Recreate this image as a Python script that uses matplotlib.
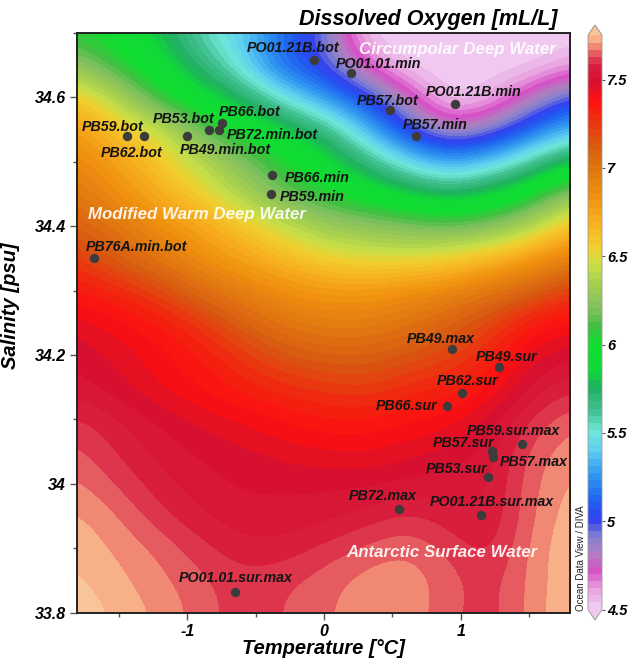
import numpy as np
import matplotlib
matplotlib.use("Agg")
import matplotlib.pyplot as plt
from matplotlib.colors import LinearSegmentedColormap, Normalize
from matplotlib.ticker import MultipleLocator

plt.rcParams['font.family'] = ['Liberation Sans', 'DejaVu Sans']

# gridded oxygen field (ODV / DIVA)
temp_grid = [-1.8, -1.5, -1.2, -0.9, -0.6, -0.3, 0.0, 0.3, 0.6, 0.9, 1.2, 1.5, 1.8]
sal_grid = [34.70, 34.65, 34.60, 34.55, 34.50, 34.45, 34.40, 34.35, 34.30, 34.25,
            34.20, 34.15, 34.10, 34.05, 34.00, 33.95, 33.90, 33.85, 33.80]
oxy_grid = [
    [6.05, 5.95, 5.8, 5.55, 5.4, 5.15, 4.95, 4.5, 4.5, 4.5, 4.5, 4.5, 4.5],
    [6.25, 6.05, 5.9, 5.7, 5.45, 5.1, 5.0, 4.7, 4.5, 4.5, 4.5, 4.5, 4.6],
    [6.6, 6.35, 6.05, 5.9, 5.75, 5.5, 5.25, 5.05, 4.78, 4.5, 4.55, 4.78, 5.0],
    [6.8, 6.6, 6.45, 6.15, 6.0, 5.85, 5.7, 5.35, 5.02, 4.78, 4.88, 5.12, 5.35],
    [6.9, 6.75, 6.6, 6.4, 6.2, 6.05, 5.9, 5.7, 5.45, 5.28, 5.38, 5.6, 5.85],
    [7.0, 6.85, 6.7, 6.55, 6.35, 6.15, 6.05, 5.95, 5.85, 5.75, 5.85, 6.0, 6.25],
    [7.1, 7.0, 6.85, 6.75, 6.6, 6.45, 6.3, 6.25, 6.2, 6.15, 6.2, 6.35, 6.65],
    [7.25, 7.1, 7.0, 6.85, 6.75, 6.65, 6.55, 6.5, 6.5, 6.55, 6.65, 6.8, 6.95],
    [7.35, 7.3, 7.2, 7.05, 6.95, 6.85, 6.8, 6.8, 6.85, 6.9, 7.0, 7.1, 7.25],
    [7.45, 7.4, 7.35, 7.25, 7.1, 7.0, 6.95, 6.95, 7.0, 7.1, 7.2, 7.35, 7.4],
    [7.5, 7.45, 7.4, 7.35, 7.25, 7.15, 7.1, 7.1, 7.15, 7.2, 7.3, 7.45, 7.5],
    [7.52, 7.48, 7.42, 7.38, 7.33, 7.28, 7.25, 7.22, 7.28, 7.32, 7.38, 7.52, 7.58],
    [7.6, 7.55, 7.5, 7.45, 7.42, 7.38, 7.35, 7.35, 7.38, 7.4, 7.48, 7.6, 7.66],
    [7.64, 7.58, 7.53, 7.5, 7.48, 7.45, 7.43, 7.42, 7.45, 7.48, 7.52, 7.64, 7.7],
    [7.68, 7.62, 7.56, 7.52, 7.5, 7.5, 7.5, 7.5, 7.52, 7.53, 7.53, 7.66, 7.72],
    [7.72, 7.67, 7.6, 7.55, 7.52, 7.52, 7.53, 7.56, 7.6, 7.56, 7.54, 7.66, 7.74],
    [7.74, 7.7, 7.66, 7.6, 7.56, 7.56, 7.6, 7.64, 7.67, 7.62, 7.56, 7.68, 7.75],
    [7.76, 7.72, 7.68, 7.64, 7.6, 7.62, 7.65, 7.69, 7.7, 7.65, 7.6, 7.68, 7.75],
    [7.78, 7.74, 7.7, 7.65, 7.6, 7.63, 7.66, 7.7, 7.7, 7.64, 7.6, 7.68, 7.76],
]

# stations
st_names = ['PO01.21B.bot', 'PO01.01.min', 'PB57.bot', 'PO01.21B.min', 'PB57.min',
            'PB59.bot', 'PB62.bot', 'PB53.bot', 'PB49.min.bot', 'PB66.bot',
            'PB72.min.bot', 'PB66.min', 'PB59.min', 'PB76A.min.bot', 'PB49.max',
            'PB49.sur', 'PB62.sur', 'PB66.sur', 'PB59.sur.max', 'PB57.sur',
            'PB57.max', 'PB53.sur', 'PB72.max', 'PO01.21B.sur.max', 'PO01.01.sur.max']
st_temp = [-0.07, 0.20, 0.48, 0.96, 0.67, -1.44, -1.32, -0.84, -1.00, -0.75,
           -0.77, -0.38, -0.39, -1.68, 0.94, 1.28, 1.01, 0.90, 1.45, 1.23,
           1.24, 1.20, 0.55, 1.15, -0.65]
st_sal = [34.658, 34.638, 34.580, 34.589, 34.540, 34.540, 34.540, 34.549, 34.540, 34.560,
          34.549, 34.480, 34.450, 34.350, 34.210, 34.181, 34.141, 34.121, 34.062, 34.051,
          34.041, 34.011, 33.961, 33.951, 33.832]
# label offsets from each dot (pixels, left/baseline)
lab_off = [(-68, 8), (-16, 5), (-33, 5), (-29, 8), (-13, 7),
           (-46, 5), (-43, -21), (-56, 7), (-8, -18), (-3, 7),
           (8, -9), (13, -7), (9, -7), (-9, 7), (-46, 6),
           (-23, 6), (-25, 8), (-71, -4), (-55, 9), (-59, 4),
           (6, -9), (-62, 4), (-50, 9), (-51, 9), (-56, 10)]

water_names = ['Circumpolar Deep Water', 'Modified Warm Deep Water', 'Antarctic Surface Water']
water_temp = [0.259, -1.725, 0.166]
water_sal = [34.668, 34.411, 33.886]

# ODV-like colour scale
cmap_vals = [4.5, 4.6, 4.7, 4.8, 4.9, 5.0, 5.1, 5.25, 5.4, 5.5, 5.62, 5.75, 5.85, 6.0,
             6.1, 6.2, 6.35, 6.45, 6.55, 6.7, 6.85, 7.0, 7.15, 7.3, 7.4, 7.5, 7.6, 7.65,
             7.7, 7.75]
cmap_cols = ['#f0c8f0', '#e8a0e0', '#d850c8', '#b080c0', '#8080d0', '#3040f0', '#2060f0',
             '#3098f0', '#60d0f0', '#70e8d8', '#40c090', '#20b060', '#10d838', '#10e030',
             '#40c040', '#80c060', '#a8d050', '#c8e048', '#f0d030', '#f8b020', '#f09010',
             '#e07810', '#d85a10', '#f02a10', '#ff1010', '#d81030', '#d82040', '#e04858',
             '#f08070', '#f8b088']
vmin, vmax = 4.5, 7.75
pos = [(v - vmin) / (vmax - vmin) for v in cmap_vals]
cmap = LinearSegmentedColormap.from_list('odv', list(zip(pos, cmap_cols)), N=80)
cmap.set_over('#f8c49a')
cmap.set_under('#eccaf0')
norm = Normalize(vmin=vmin, vmax=vmax)

fig = plt.figure(figsize=(6.3, 6.63), dpi=100)
ax = fig.add_axes([76.7 / 630, 50.5 / 663, 493.3 / 630, 579.5 / 663])

dT = temp_grid[1] - temp_grid[0]
dS = sal_grid[0] - sal_grid[1]
ext = [temp_grid[0] - dT / 2, temp_grid[-1] + dT / 2, sal_grid[-1] - dS / 2, sal_grid[0] + dS / 2]
im = ax.imshow(np.array(oxy_grid), extent=ext, origin='upper', cmap=cmap, norm=norm,
               interpolation='bicubic', interpolation_stage='data', aspect='auto')
ax.set_xlim(-1.81, 1.80)
ax.set_ylim(33.8, 34.70)

ax.scatter(st_temp, st_sal, s=46, color='#3c3c3c', zorder=3, linewidths=0)
for name, t, s, off in zip(st_names, st_temp, st_sal, lab_off):
    ax.annotate(name, (t, s), xytext=off, textcoords='offset pixels', ha='left', va='baseline',
                fontsize=10.3, fontweight='bold', fontstyle='italic', color='#141414', zorder=4)
for name, t, s in zip(water_names, water_temp, water_sal):
    ax.text(t, s, name, ha='left', va='baseline', fontsize=12.2, fontweight='bold',
            fontstyle='italic', color='white', alpha=0.9, zorder=4)

ax.set_xticks([-1, 0, 1])
ax.set_xticklabels(['-1', '0', '1'])
ax.set_yticks([33.8, 34.0, 34.2, 34.4, 34.6])
ax.set_yticklabels(['33.8', '34', '34.2', '34.4', '34.6'])
ax.xaxis.set_minor_locator(MultipleLocator(0.5))
ax.yaxis.set_minor_locator(MultipleLocator(0.1))
ax.tick_params(which='both', direction='out', width=1, color='#555555')
ax.tick_params(which='major', length=5, pad=3)
ax.tick_params(which='minor', length=3)
for lab in ax.get_xticklabels() + ax.get_yticklabels():
    lab.set_fontsize(11.5)
    lab.set_fontweight('bold')
    lab.set_fontstyle('italic')
for sp in ax.spines.values():
    sp.set_linewidth(1.4)
    sp.set_color('#222222')

# colour bar
cax = fig.add_axes([588 / 630, 43 / 663, 14 / 630, 595 / 663])
cb = fig.colorbar(im, cax=cax, extend='both', extendfrac=0.018)
cb.set_ticks([4.5, 5, 5.5, 6, 6.5, 7, 7.5])
cb.set_ticklabels(['4.5', '5', '5.5', '6', '6.5', '7', '7.5'])
cb.outline.set_linewidth(0.6)
cb.outline.set_edgecolor('#999999')
cax.tick_params(length=2, width=0.8, color='#555555', pad=1.5)
for lab in cax.get_yticklabels():
    lab.set_fontsize(10.5)
    lab.set_fontweight('bold')
    lab.set_fontstyle('italic')

fig.text(581 / 630, 1 - 558 / 663, 'Ocean Data View / DIVA', rotation=90, ha='center',
         va='center', fontsize=7, color='#222222')
fig.text(557 / 630, 1 - 25 / 663, 'Dissolved Oxygen [mL/L]', ha='right', va='baseline',
         fontsize=15.5, fontweight='bold', fontstyle='italic')
fig.text(323 / 630, 1 - 654 / 663, 'Temperature [°C]', ha='center', va='baseline',
         fontsize=14.5, fontweight='bold', fontstyle='italic')
fig.text(11 / 630, 1 - 306 / 663, 'Salinity [psu]', rotation=90, ha='center', va='center',
         fontsize=14.5, fontweight='bold', fontstyle='italic')

fig.savefig('out.png', dpi=100)
